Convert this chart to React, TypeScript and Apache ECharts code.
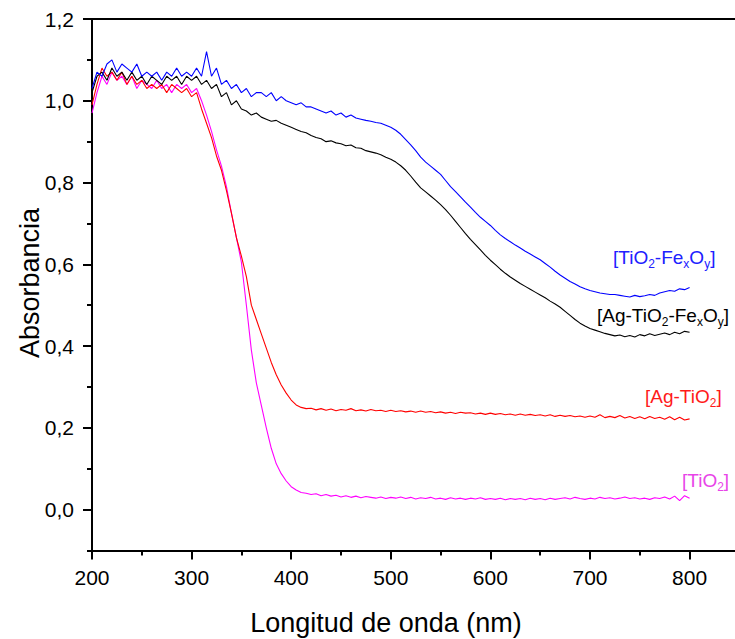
import React, { useEffect, useRef } from "react";
import * as echarts from "echarts";

const wavelengths: number[] = [];
for (let w = 200; w <= 800; w += 5) wavelengths.push(w);

const tioFeValues = [
  1.03, 1.07, 1.06, 1.09, 1.10, 1.07, 1.09, 1.08, 1.07, 1.09,
  1.06, 1.07, 1.06, 1.07, 1.05, 1.07, 1.06, 1.08, 1.06, 1.07,
  1.06, 1.08, 1.06, 1.12, 1.06, 1.08, 1.04, 1.05, 1.03, 1.04,
  1.02, 1.03, 1.01, 1.02, 1.02, 1.01, 1.02, 1.00, 1.01, 1.00,
  0.995, 0.99, 0.995, 0.985, 0.985, 0.98, 0.975, 0.97, 0.975, 0.965,
  0.97, 0.96, 0.965, 0.958, 0.955, 0.952, 0.95, 0.947, 0.945, 0.94,
  0.935, 0.928, 0.918, 0.905, 0.892, 0.878, 0.862, 0.85, 0.84, 0.83,
  0.82, 0.805, 0.79, 0.778, 0.765, 0.752, 0.74, 0.727, 0.715, 0.705,
  0.695, 0.683, 0.672, 0.663, 0.655, 0.647, 0.64, 0.632, 0.625, 0.618,
  0.611, 0.602, 0.593, 0.583, 0.574, 0.566, 0.558, 0.552, 0.545, 0.54,
  0.536, 0.533, 0.53, 0.528, 0.526, 0.526, 0.524, 0.522, 0.52, 0.524,
  0.521, 0.523, 0.526, 0.524, 0.53, 0.533, 0.536, 0.534, 0.54, 0.538,
  0.543,
];

const agTioFeValues = [
  1.02, 1.06, 1.07, 1.05, 1.08, 1.06, 1.07, 1.05, 1.07, 1.05,
  1.06, 1.04, 1.06, 1.05, 1.04, 1.06, 1.05, 1.06, 1.04, 1.06,
  1.05, 1.06, 1.04, 1.05, 1.03, 1.04, 1.01, 1.02, 0.99, 1.00,
  0.98, 0.975, 0.965, 0.97, 0.96, 0.955, 0.95, 0.952, 0.945, 0.94,
  0.935, 0.93, 0.925, 0.922, 0.915, 0.91, 0.907, 0.9, 0.902, 0.897,
  0.895, 0.89, 0.892, 0.885, 0.884, 0.878, 0.875, 0.872, 0.868, 0.862,
  0.857, 0.85, 0.841, 0.83, 0.816, 0.801, 0.787, 0.777, 0.767, 0.757,
  0.746, 0.734, 0.72, 0.705, 0.69, 0.675, 0.661, 0.648, 0.635, 0.622,
  0.61, 0.599, 0.588, 0.578, 0.569, 0.561, 0.553, 0.546, 0.539, 0.532,
  0.525, 0.518, 0.51, 0.503, 0.495, 0.485, 0.475, 0.465, 0.456, 0.449,
  0.443, 0.439, 0.435, 0.431, 0.428, 0.425, 0.427, 0.423, 0.426, 0.422,
  0.428, 0.425, 0.43, 0.426, 0.429, 0.432, 0.428, 0.434, 0.43, 0.436,
  0.434,
];

const agTioValues = [
  0.99, 1.04, 1.08, 1.06, 1.07, 1.05, 1.07, 1.04, 1.06, 1.04,
  1.05, 1.03, 1.04, 1.03, 1.04, 1.02, 1.04, 1.03, 1.02, 1.03,
  1.01, 1.02, 0.98, 0.945, 0.91, 0.865, 0.83, 0.78, 0.725, 0.665,
  0.62, 0.57, 0.5, 0.465, 0.43, 0.395, 0.36, 0.33, 0.305, 0.285,
  0.268, 0.256, 0.25, 0.247, 0.248, 0.244, 0.247, 0.243, 0.246, 0.242,
  0.245, 0.243, 0.247, 0.242, 0.244, 0.241, 0.245, 0.242, 0.243, 0.24,
  0.243, 0.24, 0.242, 0.239, 0.241, 0.238, 0.241, 0.238, 0.24, 0.237,
  0.239, 0.236, 0.238, 0.235, 0.238, 0.236, 0.237, 0.234, 0.236, 0.233,
  0.236, 0.233, 0.235, 0.232, 0.234, 0.231, 0.234, 0.231, 0.233, 0.23,
  0.232, 0.229, 0.232, 0.228, 0.231, 0.228, 0.23, 0.227, 0.229, 0.226,
  0.229, 0.226, 0.232, 0.225, 0.228, 0.225, 0.23, 0.224, 0.228, 0.223,
  0.227, 0.222, 0.228, 0.223, 0.226, 0.221, 0.227, 0.22, 0.226, 0.219,
  0.222,
];

const tioValues = [
  0.97, 1.02, 1.06, 1.04, 1.07, 1.05, 1.06, 1.04, 1.06, 1.03,
  1.05, 1.04, 1.03, 1.05, 1.03, 1.04, 1.02, 1.04, 1.03, 1.04,
  1.02, 1.03, 1.0, 0.965, 0.925, 0.88, 0.84, 0.79, 0.725, 0.665,
  0.605, 0.5, 0.39, 0.31, 0.255, 0.2, 0.15, 0.112, 0.088, 0.07,
  0.056, 0.048, 0.042, 0.04, 0.037, 0.039, 0.034, 0.037, 0.033, 0.035,
  0.031, 0.034, 0.03, 0.033, 0.029, 0.032, 0.03, 0.028, 0.031, 0.027,
  0.03, 0.028, 0.031, 0.027, 0.03, 0.026, 0.029, 0.027, 0.03, 0.026,
  0.028, 0.025, 0.029, 0.026, 0.028, 0.025, 0.028, 0.026, 0.029, 0.025,
  0.027, 0.025, 0.028, 0.024, 0.027, 0.025, 0.027, 0.024, 0.028, 0.025,
  0.027, 0.024, 0.028, 0.025, 0.027, 0.029, 0.026, 0.03, 0.027, 0.025,
  0.028, 0.026, 0.03, 0.027, 0.029, 0.026, 0.028, 0.031, 0.027, 0.029,
  0.026, 0.028, 0.025, 0.029, 0.027, 0.031, 0.026, 0.033, 0.022, 0.034,
  0.028,
];

const xMajorTicks = [200, 300, 400, 500, 600, 700, 800];
const xMinorTicks = [250, 350, 450, 550, 650, 750];
const yMajorTicks = [0, 0.2, 0.4, 0.6, 0.8, 1.0, 1.2];
const yMinorTicks = [-0.1, 0.1, 0.3, 0.5, 0.7, 0.9, 1.1];

const X_MIN = 200;
const X_MAX = 845.6;

const FONT = "'Liberation Sans', Arial, sans-serif";

const pair = (vals: number[]) => wavelengths.map((w, i) => [w, vals[i]]);

const subRich = (color: string) => ({
  n: { fontSize: 19, fontFamily: FONT, fill: color, color, lineHeight: 24 },
  s: { fontSize: 12, fontFamily: FONT, fill: color, color, lineHeight: 24, verticalAlign: "bottom" },
});

export default function App() {
  const ref = useRef<HTMLDivElement>(null);
  useEffect(() => {
    if (!ref.current) return;
    const chart = echarts.init(ref.current, null, { renderer: "svg" });
    const axisBase = {
      type: "value" as const,
      axisLine: { onZero: false, lineStyle: { color: "#000", width: 2 } },
      splitLine: { show: false },
    };
    const option: any = {
      animation: false,
      backgroundColor: "#fff",
      grid: { left: 92, top: 19, right: 0, height: 531.5, containLabel: false },
      xAxis: [
        {
          ...axisBase,
          position: "bottom",
          min: X_MIN,
          max: X_MAX,
          axisTick: { show: true, length: 9, lineStyle: { width: 2, color: "#000" }, customValues: xMajorTicks },
          axisLabel: {
            customValues: xMajorTicks,
            fontSize: 21,
            fontFamily: FONT,
            color: "#000",
            margin: 16,
          },
        },
        {
          ...axisBase,
          position: "bottom",
          min: X_MIN,
          max: X_MAX,
          axisLine: { show: false, onZero: false },
          axisTick: { show: true, length: 5, lineStyle: { width: 2, color: "#000" }, customValues: xMinorTicks },
          axisLabel: { show: false },
        },
        {
          ...axisBase,
          position: "top",
          min: X_MIN,
          max: X_MAX,
          axisTick: { show: false },
          axisLabel: { show: false },
        },
      ],
      yAxis: [
        {
          ...axisBase,
          position: "left",
          min: -0.1,
          max: 1.2,
          axisTick: { show: true, length: 9, lineStyle: { width: 2, color: "#000" }, customValues: yMajorTicks },
          axisLabel: {
            customValues: yMajorTicks,
            fontSize: 21,
            fontFamily: FONT,
            color: "#000",
            margin: 18,
            formatter: (v: number) => v.toFixed(1).replace(".", ","),
          },
        },
        {
          ...axisBase,
          position: "left",
          min: -0.1,
          max: 1.2,
          axisLine: { show: false, onZero: false },
          axisTick: { show: true, length: 5, lineStyle: { width: 2, color: "#000" }, customValues: yMinorTicks },
          axisLabel: { show: false },
        },
      ],
      series: [
        { name: "[TiO2]", type: "line", data: pair(tioValues), color: "#ff00ff" },
        { name: "[Ag-TiO2]", type: "line", data: pair(agTioValues), color: "#ff0000" },
        { name: "[Ag-TiO2-FexOy]", type: "line", data: pair(agTioFeValues), color: "#000000" },
        { name: "[TiO2-FexOy]", type: "line", data: pair(tioFeValues), color: "#0000ff" },
      ].map((s) => ({
        ...s,
        xAxisIndex: 0,
        yAxisIndex: 0,
        showSymbol: false,
        symbol: "none",
        lineStyle: { width: 1.1, color: s.color },
        itemStyle: { color: s.color },
      })),
      graphic: [
        {
          type: "text",
          left: 613,
          top: 248,
          style: { text: "{n|[TiO}{s|2}{n|-Fe}{s|x}{n|O}{s|y}{n|]}", rich: subRich("#2020ff"), fill: "#2020ff" },
        },
        {
          type: "text",
          left: 597,
          top: 306,
          style: { text: "{n|[Ag-TiO}{s|2}{n|-Fe}{s|x}{n|O}{s|y}{n|]}", rich: subRich("#000000"), fill: "#000" },
        },
        {
          type: "text",
          left: 645,
          top: 387,
          style: { text: "{n|[Ag-TiO}{s|2}{n|]}", rich: subRich("#ff1a1a"), fill: "#ff1a1a" },
        },
        {
          type: "text",
          left: 682,
          top: 471,
          style: { text: "{n|[TiO}{s|2}{n|]}", rich: subRich("#e845e8"), fill: "#e845e8" },
        },
        {
          type: "text",
          x: 386,
          y: 623,
          style: {
            text: "Longitud de onda (nm)",
            fontSize: 27,
            fontFamily: FONT,
            fill: "#000",
            align: "center",
            verticalAlign: "middle",
          },
        },
        {
          type: "text",
          x: 30,
          y: 283,
          rotation: Math.PI / 2,
          style: {
            text: "Absorbancia",
            fontSize: 27,
            fontFamily: FONT,
            fill: "#000",
            align: "center",
            verticalAlign: "middle",
          },
        },
      ],
    };
    chart.setOption(option);
    return () => chart.dispose();
  }, []);
  return (
    <div
      ref={ref}
      style={{ position: "fixed", left: 0, top: 0, width: 735, height: 639, background: "#fff" }}
    />
  );
}
